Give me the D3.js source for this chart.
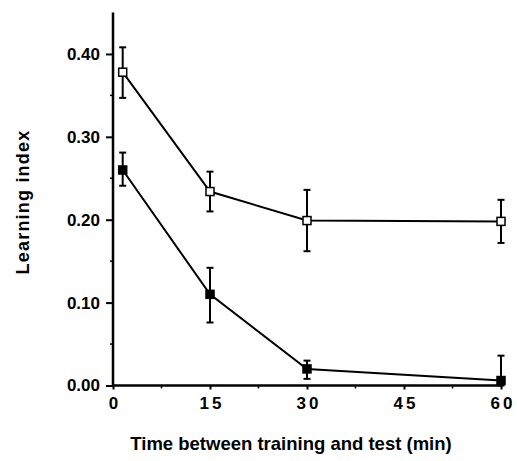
<!DOCTYPE html>
<html>
<head>
<meta charset="utf-8">
<script src="https://cdn.jsdelivr.net/npm/d3@7"></script>
<style>
  html, body { margin: 0; padding: 0; background: #fff; }
  svg { display: block; }
  text { font-family: "Liberation Sans", Arial, Helvetica, sans-serif; font-weight: bold; fill: #000; }
</style>
</head>
<body>
<svg id="chart" width="517" height="461"></svg>
<script>
// Retention of learning over time after training
const times = [1.5, 15, 30, 60];
const openMean = [0.378, 0.234, 0.199, 0.198];
const openUpper = [0.408, 0.258, 0.236, 0.224];
const openLower = [0.347, 0.210, 0.162, 0.172];
const filledMean = [0.260, 0.110, 0.020, 0.006];
const filledUpper = [0.281, 0.142, 0.030, 0.036];
const filledLower = [0.241, 0.076, 0.008, 0.000];
const xTicks = [0, 15, 30, 45, 60];
const yTicks = [0, 0.10, 0.20, 0.30, 0.40];

const svg = d3.select("#chart");
const x = d3.scaleLinear().domain([0, 60]).range([113, 501]);
const y = d3.scaleLinear().domain([0, 0.45]).range([385.5, 12.5]);

// axes
const xAxis = d3.axisBottom(x).tickValues(xTicks).tickSize(4).tickPadding(7)
  .tickFormat(d3.format("d"));
const gx = svg.append("g").attr("transform", `translate(0,${y(0)})`).call(xAxis);
gx.select(".domain").attr("d", `M${x(0)},0H${x(60) + 2}`);
gx.selectAll(".tick text").attr("font-size", 17).style("letter-spacing", "3px")
  .attr("dx", "1.5px");
// minor x ticks
gx.selectAll(".minor").data(d3.range(7.5, 60, 15)).enter().append("line")
  .attr("x1", d => x(d)).attr("x2", d => x(d)).attr("y1", 0).attr("y2", 3)
  .attr("stroke", "#000").attr("stroke-width", 1.5);

const yAxis = d3.axisLeft(y).tickValues(yTicks).tickSize(7).tickPadding(6)
  .tickFormat(d3.format(".2f"));
const gy = svg.append("g").attr("transform", `translate(${x(0)},0)`).call(yAxis);
gy.select(".domain").attr("d", `M0,${y(0.45)}V${y(0)}`);
gy.selectAll(".tick text").attr("font-size", 17).style("letter-spacing", "0px");
gy.selectAll(".minor").data(d3.range(0.05, 0.45, 0.1)).enter().append("line")
  .attr("x1", -3).attr("x2", 0).attr("y1", d => y(d)).attr("y2", d => y(d))
  .attr("stroke", "#000").attr("stroke-width", 1.5);

svg.selectAll(".domain").attr("stroke", "#000").attr("stroke-width", 2.5);
svg.selectAll(".tick line").attr("stroke", "#000").attr("stroke-width", 2);

// axis titles
svg.append("text").attr("x", 291).attr("y", 450).attr("text-anchor", "middle")
  .attr("font-size", 18.5).text("Time between training and test (min)");
svg.append("text").attr("transform", `translate(29,202) rotate(-90)`)
  .attr("text-anchor", "middle").attr("font-size", 18).style("letter-spacing", "1.2px")
  .text("Learning index");

function drawSeries(mean, upper, lower, fill, size) {
  const pts = times.map((t, i) => ({ t, m: mean[i], u: upper[i], l: lower[i] }));
  const line = d3.line().x(d => x(d.t)).y(d => y(d.m));
  svg.append("path").datum(pts).attr("d", line).attr("fill", "none")
    .attr("stroke", "#000").attr("stroke-width", 2);
  const g = svg.append("g");
  const eb = g.selectAll(".eb").data(pts).enter().append("g");
  eb.append("line").attr("x1", d => x(d.t)).attr("x2", d => x(d.t))
    .attr("y1", d => y(d.u)).attr("y2", d => y(d.l))
    .attr("stroke", "#000").attr("stroke-width", 2);
  ["u", "l"].forEach(k => {
    eb.append("line").attr("x1", d => x(d.t) - 3.5).attr("x2", d => x(d.t) + 3.5)
      .attr("y1", d => y(d[k])).attr("y2", d => y(d[k]))
      .attr("stroke", "#000").attr("stroke-width", 2);
  });
  g.selectAll(".mk").data(pts).enter().append("rect")
    .attr("x", d => x(d.t) - size / 2).attr("y", d => y(d.m) - size / 2)
    .attr("width", size).attr("height", size)
    .attr("fill", fill).attr("stroke", "#000").attr("stroke-width", 1.5);
}
drawSeries(filledMean, filledUpper, filledLower, "#000", 8);
drawSeries(openMean, openUpper, openLower, "#fff", 8);
</script>
</body>
</html>
